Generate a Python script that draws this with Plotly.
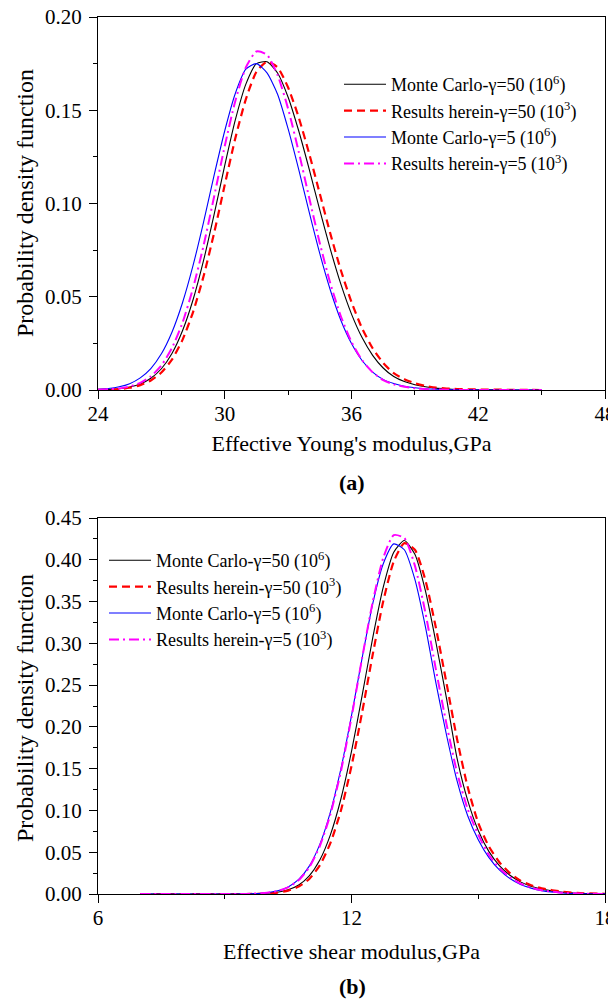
import plotly.graph_objects as go

# ---------------- data: (a) Effective Young's modulus ----------------
x_young = [24, 24.5, 25, 25.5, 26, 26.5, 27, 27.5, 28, 28.5, 29, 29.5, 30, 30.5, 31, 31.5,
           32, 32.5, 33, 33.5, 34, 34.5, 35, 35.5, 36, 36.5, 37, 37.5, 38, 38.5, 39, 39.5,
           40, 40.5, 41, 41.5, 42, 42.5, 43, 43.5, 44, 44.5, 45]
mc50_young = [0.0001, 0.0003, 0.0007, 0.0016, 0.0032, 0.0063, 0.0114, 0.0196, 0.0318, 0.0484,
              0.0696, 0.0943, 0.1204, 0.1448, 0.1640, 0.1750, 0.1760, 0.1700, 0.1570, 0.1390,
              0.1183, 0.0964, 0.0754, 0.0566, 0.0407, 0.0281, 0.0186, 0.0118, 0.0072, 0.0045,
              0.0028, 0.0017, 0.0010, 0.0006, 0.0003, 0.0002, 0.0001, 0.0001, 0, 0, 0, 0, 0]
res50_young = [0.0001, 0.0002, 0.0005, 0.0012, 0.0026, 0.0051, 0.0094, 0.0163, 0.0269, 0.0418,
               0.0611, 0.0844, 0.1100, 0.1350, 0.1560, 0.1706, 0.1760, 0.1730, 0.1622, 0.1462,
               0.1266, 0.1052, 0.0838, 0.0641, 0.0471, 0.0331, 0.0224, 0.0145, 0.0090, 0.0058,
               0.0036, 0.0022, 0.0013, 0.0008, 0.0005, 0.0004, 0.0003, 0.0002, 0.0002, 0.0001,
               0.0001, 0.0001, 0]
mc5_young = [0.0004, 0.0008, 0.0017, 0.0034, 0.0065, 0.0115, 0.0194, 0.0310, 0.0468, 0.0668,
             0.0902, 0.1153, 0.1390, 0.1590, 0.1720, 0.1750, 0.1700, 0.1586, 0.1400, 0.1183,
             0.0952, 0.0731, 0.0535, 0.0373, 0.0249, 0.0158, 0.0096, 0.0057, 0.0035, 0.0020,
             0.0012, 0.0007, 0.0004, 0.0002, 0.0001, 0.0001, 0, 0, 0, 0, 0, 0, 0]
res5_young = [0.0002, 0.0004, 0.0008, 0.0019, 0.0038, 0.0073, 0.0132, 0.0225, 0.0361, 0.0546,
              0.0776, 0.1039, 0.1308, 0.1550, 0.1730, 0.1815, 0.1797, 0.1689, 0.1508, 0.1278,
              0.1029, 0.0787, 0.0571, 0.0394, 0.0258, 0.0160, 0.0095, 0.0053, 0.0030, 0.0017,
              0.0009, 0.0005, 0.0003, 0.0002, 0.0001, 0, 0, 0, 0, 0, 0, 0, 0]

# ---------------- data: (b) Effective shear modulus ----------------
x_shear = [7, 8, 9, 9.5, 10, 10.25, 10.5, 10.75, 11, 11.25, 11.5, 11.75, 12, 12.25, 12.5, 12.75,
           13, 13.25, 13.5, 13.75, 14, 14.25, 14.5, 14.75, 15, 15.25, 15.5, 15.75, 16, 16.25,
           16.5, 17, 17.5, 18]
mc50_shear = [0, 0, 0, 0, 0.0009, 0.0021, 0.0050, 0.0108, 0.0218, 0.0407, 0.0708, 0.1140, 0.1706,
              0.2370, 0.3060, 0.3670, 0.4090, 0.4230, 0.4065, 0.3627, 0.3007, 0.2338, 0.1620,
              0.1120, 0.0760, 0.0510, 0.0340, 0.0225, 0.0145, 0.0092, 0.0058, 0.0020, 0.0006, 0.0002]
res50_shear = [0, 0, 0, 0, 0.0007, 0.0017, 0.0040, 0.0088, 0.0180, 0.0343, 0.0608, 0.1000, 0.1530,
               0.2170, 0.2860, 0.3500, 0.3980, 0.4200, 0.4120, 0.3755, 0.3180, 0.2520, 0.1850,
               0.1280, 0.0850, 0.0570, 0.0380, 0.0250, 0.0160, 0.0105, 0.0068, 0.0027, 0.0009, 0.0003]
mc5_shear = [0, 0, 0, 0.0001, 0.0015, 0.0038, 0.0085, 0.0175, 0.0334, 0.0594, 0.0980, 0.1500, 0.2136,
             0.2820, 0.3470, 0.3950, 0.4190, 0.4120, 0.3765, 0.3196, 0.2520, 0.1900, 0.1350,
             0.0937, 0.0650, 0.0438, 0.0288, 0.0185, 0.0115, 0.0070, 0.0040, 0.0012, 0.0003, 0.0001]
res5_shear = [0, 0, 0, 0.0001, 0.0015, 0.0036, 0.0080, 0.0166, 0.0319, 0.0573, 0.0952, 0.1470, 0.2114,
              0.2820, 0.3490, 0.4020, 0.4295, 0.4260, 0.3930, 0.3365, 0.2680, 0.2030, 0.1450,
              0.1015, 0.0710, 0.0470, 0.0310, 0.0200, 0.0125, 0.0077, 0.0045, 0.0014, 0.0004, 0.0001]

names = ["Monte Carlo-γ=50 (10<sup>6</sup>)",
         "Results herein-γ=50 (10<sup>3</sup>)",
         "Monte Carlo-γ=5 (10<sup>6</sup>)",
         "Results herein-γ=5 (10<sup>3</sup>)"]
styles = [dict(color="#000000", width=1.1, dash="solid"),
          dict(color="#FF0000", width=2.2, dash="8px,5px"),
          dict(color="#0000FF", width=1.1, dash="solid"),
          dict(color="#FF00FF", width=2.0, dash="10px,4px,2px,4px")]

FONT = "Liberation Serif, Times New Roman, serif"

fig = go.Figure()
for i, (name, ys, st) in enumerate(zip(names, [mc50_young, res50_young, mc5_young, res5_young], styles)):
    fig.add_trace(go.Scatter(x=x_young, y=ys, mode="lines", name=name,
                             line=dict(shape="spline", smoothing=0.6, **st),
                             xaxis="x", yaxis="y", legend="legend", legendgroup=f"a{i}"))
for i, (name, ys, st) in enumerate(zip(names, [mc50_shear, res50_shear, mc5_shear, res5_shear], styles)):
    fig.add_trace(go.Scatter(x=x_shear, y=ys, mode="lines", name=name,
                             line=dict(shape="spline", smoothing=0.6, **st),
                             xaxis="x2", yaxis="y2", legend="legend2", legendgroup=f"b{i}"))

# page body adds an 8px offset; positions below are figure pixels
W, H = 616, 1000
XD = [90 / W, 597 / W]
YD1 = [1 - 382 / H, 1 - 9 / H]
YD2 = [1 - 886 / H, 1 - 510 / H]

tickfont = dict(family=FONT, size=21, color="black")
xtitlefont = dict(family=FONT, size=22, color="black")
ytitlefont = dict(family=FONT, size=24, color="black")

def xax(rng, dtick, title, anchor, domain, standoff):
    return dict(domain=domain, range=rng, anchor=anchor, dtick=dtick, tick0=rng[0],
                ticks="outside", ticklen=8, tickwidth=1.2, tickcolor="black",
                minor=dict(ticks="outside", dtick=dtick / 2, ticklen=4, tickwidth=1.2, tickcolor="black"),
                showline=True, linecolor="black", linewidth=1.3, mirror=True,
                showgrid=False, zeroline=False, tickfont=tickfont, ticklabeloverflow="allow",
                ticklabelstandoff=-3,
                title=dict(text=title, font=xtitlefont, standoff=standoff), automargin=False)

def yax(rng, anchor, domain):
    return dict(domain=domain, range=rng, anchor=anchor, dtick=0.05, tick0=0, tickformat=".2f",
                ticks="outside", ticklen=8, tickwidth=1.2, tickcolor="black",
                minor=dict(ticks="outside", dtick=0.025, ticklen=4, tickwidth=1.2, tickcolor="black"),
                showline=True, linecolor="black", linewidth=1.3, mirror=True,
                showgrid=False, zeroline=False, tickfont=tickfont, ticklabeloverflow="allow",
                ticklabelstandoff=3, automargin=False)

def xin(rng, dtick, over, anchor):
    return dict(overlaying=over, side="top", anchor=anchor, range=rng, dtick=dtick, tick0=rng[0],
                ticks="inside", ticklen=8, tickwidth=1.2, tickcolor="black",
                minor=dict(ticks="inside", dtick=dtick / 2, ticklen=4, tickwidth=1.2, tickcolor="black"),
                showticklabels=False, showgrid=False, zeroline=False, showline=False)

def yin(rng, over, anchor):
    return dict(overlaying=over, side="right", anchor=anchor, range=rng, dtick=0.05, tick0=0,
                ticks="inside", ticklen=8, tickwidth=1.2, tickcolor="black",
                minor=dict(ticks="inside", dtick=0.025, ticklen=4, tickwidth=1.2, tickcolor="black"),
                showticklabels=False, showgrid=False, zeroline=False, showline=False)

legend_common = dict(font=dict(family=FONT, size=18, color="black"), bgcolor="rgba(0,0,0,0)",
                     borderwidth=0, xanchor="left", yanchor="top", itemwidth=42,
                     tracegroupgap=0, itemclick=False, itemdoubleclick=False)

ytitle = "Probability density function"

fig.update_layout(
    width=W, height=H,
    margin=dict(l=0, r=0, t=0, b=0),
    paper_bgcolor="white", plot_bgcolor="white",
    font=dict(family=FONT, color="black"),
    xaxis=xax([24, 48], 6, "Effective Young's modulus,GPa", "y", XD, 10),
    yaxis=yax([0, 0.20], "x", YD1),
    xaxis2=xax([6, 18], 6, "Effective shear modulus,GPa", "y2", XD, 14),
    yaxis2=yax([0, 0.45], "x2", YD2),
    xaxis3=xin([24, 48], 6, "x", "y"),
    yaxis3=yin([0, 0.20], "y", "x"),
    xaxis4=xin([6, 18], 6, "x2", "y2"),
    yaxis4=yin([0, 0.45], "y2", "x2"),
    legend=dict(x=331 / W, y=1 - 58 / H, **legend_common),
    legend2=dict(x=96 / W, y=1 - 534 / H, **legend_common),
    annotations=[
        dict(text=ytitle, textangle=-90, xref="paper", yref="paper", x=17 / W,
             y=1 - 195 / H, xanchor="center", yanchor="middle", showarrow=False, font=ytitlefont),
        dict(text=ytitle, textangle=-90, xref="paper", yref="paper", x=17 / W,
             y=1 - 700 / H, xanchor="center", yanchor="middle", showarrow=False, font=ytitlefont),
        dict(text="<b>(a)</b>", xref="paper", yref="paper", x=344 / W, y=1 - 474 / H,
             xanchor="center", yanchor="middle",
             showarrow=False, font=dict(family=FONT, size=22, color="black")),
        dict(text="<b>(b)</b>", xref="paper", yref="paper", x=344 / W, y=1 - 978 / H,
             xanchor="center", yanchor="middle",
             showarrow=False, font=dict(family=FONT, size=22, color="black")),
    ],
)

fig.write_html("out.html")
